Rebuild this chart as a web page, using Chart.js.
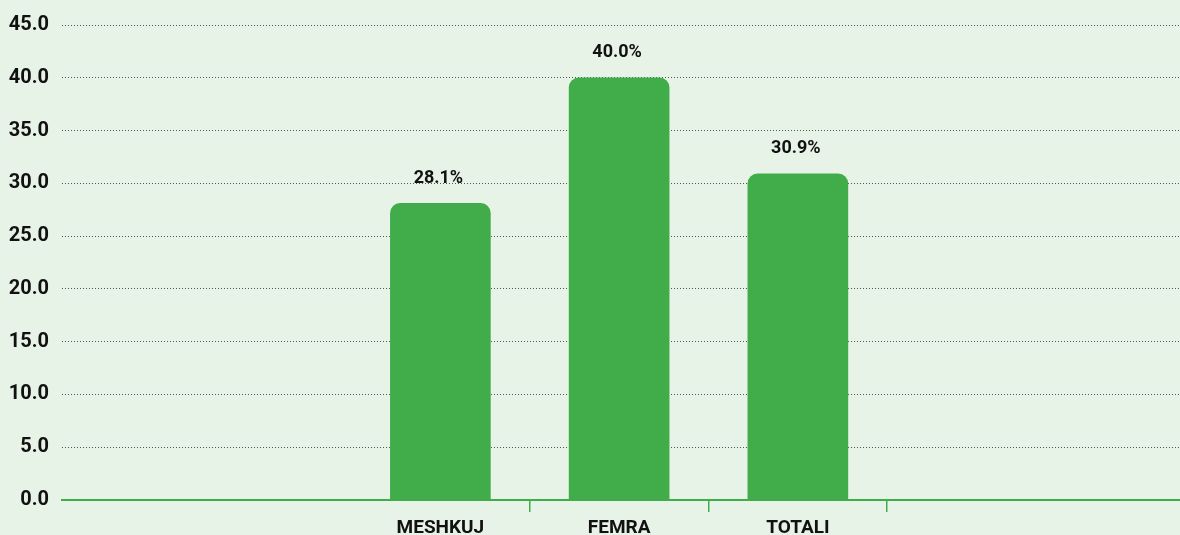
<!DOCTYPE html>
<html>
<head>
<meta charset="utf-8">
<script src="https://cdn.jsdelivr.net/npm/chart.js@4"></script>
<style>
    html, body { margin: 0; padding: 0; background: #e8f3e7; }
    #wrap { width: 1180px; height: 535px; position: relative; }
</style>
</head>
<body>
<div id="wrap"><canvas id="chart"></canvas></div>
<script>
/* data */
const categories = ['MESHKUJ', 'FEMRA', 'TOTALI'];
const values = [28.1, 40.0, 30.9];
const yTicks = [0, 5, 10, 15, 20, 25, 30, 35, 40, 45];

const GREEN = '#41ad4a';
const FONT = "Roboto, 'Liberation Sans', sans-serif";

// value labels above each bar
const barLabels = {
    id: 'barLabels',
    afterDatasetsDraw(chart) {
        const ctx = chart.ctx;
        ctx.save();
        ctx.font = `bold 18px ${FONT}`;
        ctx.fillStyle = '#111';
        ctx.textAlign = 'center';
        ctx.textBaseline = 'bottom';
        chart.getDatasetMeta(0).data.forEach((bar, i) => {
            ctx.fillText(values[i].toFixed(1) + '%', bar.x - 2, bar.y - 16);
        });
        ctx.restore();
    }
};

new Chart(document.getElementById('chart').getContext('2d'), {
    type: 'bar',
    data: {
        datasets: [{
            data: values.map((v, i) => ({ x: i, y: v })),
            backgroundColor: GREEN,
            borderWidth: 0,
            borderRadius: { topLeft: 10, topRight: 10, bottomLeft: 0, bottomRight: 0 },
            borderSkipped: 'bottom',
            barThickness: 100
        }]
    },
    options: {
        responsive: true,
        maintainAspectRatio: false,
        animation: false,
        layout: { padding: { top: 22, right: 0, left: 0, bottom: 0 } },
        plugins: { legend: { display: false }, tooltip: { enabled: false } },
        scales: {
            x: {
                type: 'linear',
                offset: false,
                min: -2.117,
                max: 4.138,
                afterBuildTicks: s => {
                    const t = [];
                    categories.forEach((c, i) => { t.push({ value: i }); t.push({ value: i + 0.5 }); });
                    s.ticks = t;
                },
                afterFit: s => { s.height = 35; },
                ticks: {
                    autoSkip: false,
                    maxRotation: 0,
                    padding: 5,
                    color: '#111',
                    font: { family: FONT, size: 19, weight: 'bold' },
                    callback: v => Number.isInteger(v) ? categories[v] : ''
                },
                grid: {
                    offset: false,
                    drawOnChartArea: false,
                    drawTicks: true,
                    tickLength: 12,
                    lineWidth: 1.5,
                    color: ctx => (ctx.tick && Number.isInteger(ctx.tick.value)) ? 'rgba(0,0,0,0)' : GREEN
                },
                border: { display: true, color: GREEN, width: 2 }
            },
            y: {
                min: 0,
                max: 45,
                afterBuildTicks: s => { s.ticks = yTicks.map(v => ({ value: v })); },
                afterFit: s => { s.width = 62; },
                ticks: {
                    padding: 13,
                    color: '#111',
                    font: { family: FONT, size: 20, weight: 'bold' },
                    callback: v => v.toFixed(1)
                },
                grid: {
                    drawTicks: false,
                    lineWidth: 1,
                    color: ctx => (ctx.tick && ctx.tick.value === 0) ? 'rgba(0,0,0,0)' : '#555',
                    borderDash: [1, 2]
                },
                border: { display: false, dash: [1, 2] }
            }
        }
    },
    plugins: [barLabels]
});
</script>
</body>
</html>
